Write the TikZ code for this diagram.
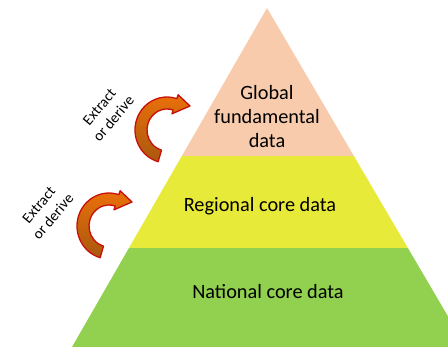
\documentclass[tikz,border=0pt]{standalone}
\usepackage{fontspec}
\setmainfont{Carlito}
\usetikzlibrary{calc}
\definecolor{peach}{HTML}{F8CBAD}
\definecolor{yel}{HTML}{E8EA3A}
\definecolor{grn}{HTML}{92D050}
\definecolor{arrowred}{HTML}{C8100A}
\definecolor{arroworange}{HTML}{EA700A}
\definecolor{arrowbrown}{HTML}{A8580F}
\begin{document}
\begin{tikzpicture}[x=1pt,y=1pt,
  layertext/.style={font=\fontsize{20.3}{24}\selectfont, align=center, text=black},
  sidetext/.style={font=\fontsize{15}{18.5}\selectfont, align=center, rotate=50, inner sep=0pt},
  bentarrow/.style={draw=arrowred, line width=1.3pt, top color=arroworange, bottom color=arrowbrown, line join=round}]
\useasboundingbox (0,0) rectangle (448,347);
\coordinate (apex) at (267,339);
\coordinate (bl) at (72,0);
\coordinate (br) at (466,0);
\begin{scope}
  \clip (0,0) rectangle (448,347);
  \clip (apex) -- (bl) -- (br) -- cycle;
  \fill[grn] (0,0) rectangle (448,99);
  \fill[yel] (0,99) rectangle (448,191);
  \fill[peach] (0,191) rectangle (448,347);
\end{scope}
\node[layertext] (global) at (267,230) {Global\\fundamental\\data};
\node[layertext] (regional) at (260,141) {Regional core data};
\node[layertext] (national) at (268,55) {National core data};
\foreach \cx/\cy in {167/217, 109/121}{
  \begin{scope}[shift={(\cx,\cy)}]
    \path[bentarrow] ({32*cos(254)},{33*sin(254)})
      arc[start angle=254, end angle=72, x radius=32, y radius=33]
      -- ({36*cos(72)},{37*sin(72)})
      -- (23,24)
      -- ({16*cos(72)},{17*sin(72)})
      -- ({20*cos(72)},{21*sin(72)})
      arc[start angle=72, end angle=254, x radius=20, y radius=21]
      -- cycle;
  \end{scope}
}
\node[sidetext] (ed1) at (106.5,234) {Extract\\or derive};
\node[sidetext] (ed2) at (46,136) {Extract\\or derive};
\end{tikzpicture}
\end{document}
